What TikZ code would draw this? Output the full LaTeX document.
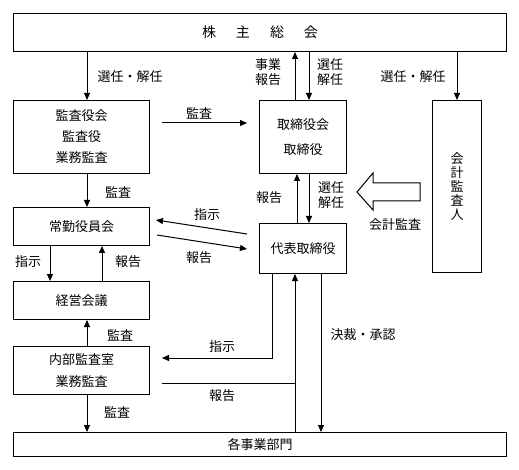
\documentclass[tikz,border=0pt]{standalone}
\usepackage{fontspec}
\setmainfont{Noto Sans CJK JP}
\usetikzlibrary{arrows.meta}
\begin{document}
\begin{tikzpicture}[x=1pt,y=-1pt,
  box/.style={draw,line width=1pt,inner sep=0pt,anchor=north west,font=\fontsize{13}{15}\selectfont},
  lbl/.style={font=\fontsize{13}{15}\selectfont,inner sep=0pt,align=center},
  arr/.style={line width=1pt,-{Triangle[length=7pt,width=6pt]}},
  ln/.style={line width=1pt}]
\useasboundingbox (0,0) rectangle (519,470);
% boxes
\node[box,minimum width=493pt,minimum height=38pt,font=\fontsize{14}{16}\selectfont] (top) at (13,13) {株\hspace{20pt}主\hspace{20pt}総\hspace{20pt}会};
\node[box,minimum width=136pt,minimum height=73pt,align=center] (audit) at (13,100) {監査役会\\[6pt]監査役\\[6pt]業務監査};
\node[box,minimum width=136pt,minimum height=38pt] (jokin) at (13,207) {常勤役員会};
\node[box,minimum width=136pt,minimum height=38pt] (keiei) at (13,281) {経営会議};
\node[box,minimum width=136pt,minimum height=48pt,align=center] (naibu) at (13,346) {内部監査室\\[7pt]業務監査};
\node[box,minimum width=87pt,minimum height=73pt,align=center] (board) at (259,100) {取締役会\\[10pt]取締役};
\node[box,minimum width=87pt,minimum height=50pt] (rep) at (259,223) {代表取締役};
\node[box,minimum width=49pt,minimum height=172pt,align=center,font=\fontsize{13}{14}\selectfont] (kaikei) at (432,100) {会\\計\\監\\査\\人};
\node[box,minimum width=493pt,minimum height=24pt] (jigyo) at (13,432) {各事業部門};
% x reference coordinates
\coordinate (x50) at (50,0);
\coordinate (x87) at (87,0);
\coordinate (x102) at (102,0);
\coordinate (x272) at (272,0);
\coordinate (x295) at (295,0);
\coordinate (x297) at (297,0);
\coordinate (x309) at (309,0);
\coordinate (x321) at (321,0);
\coordinate (x457) at (457,0);
% free ends
\coordinate (a1) at (162,123);
\coordinate (a2) at (247,123);
\coordinate (b1) at (247,234);
\coordinate (b2) at (156,220);
\coordinate (c1) at (157,235);
\coordinate (c2) at (247,249);
\coordinate (d1) at (272,358);
\coordinate (d2) at (162,358);
\coordinate (e1) at (162,383);
\coordinate (e2) at (295,383);
% connectors
\draw[arr] (top.south -| x87) -- (audit.north -| x87);
\draw[arr] (board.north -| x295) -- (top.south -| x295);
\draw[arr] (top.south -| x309) -- (board.north -| x309);
\draw[arr] (top.south -| x457) -- (kaikei.north -| x457);
\draw[arr] (a1) -- (a2);
\draw[arr] (audit.south -| x87) -- (jokin.north -| x87);
\draw[arr] (b1) -- (b2);
\draw[arr] (c1) -- (c2);
\draw[arr] (jokin.south -| x50) -- (keiei.north -| x50);
\draw[arr] (keiei.north -| x102) -- (jokin.south -| x102);
\draw[arr] (naibu.north -| x87) -- (keiei.south -| x87);
\draw[arr] (naibu.south -| x87) -- (jigyo.north -| x87);
\draw[arr] (rep.south -| x272) -- (d1) -- (d2);
\draw[arr] (jigyo.north -| x295) -- (rep.south -| x295);
\draw[ln] (e1) -- (e2);
\draw[arr] (rep.south -| x321) -- (jigyo.north -| x321);
\draw[arr] (rep.north -| x297) -- (board.south -| x297);
\draw[arr] (board.south -| x309) -- (rep.north -| x309);
% hollow arrow
\draw[line width=1pt,fill=white] (420,183) -- (373,183) -- (373,173) -- (357,192) -- (373,210) -- (373,201) -- (420,201) -- cycle;
% labels
\node[lbl] (l1) at (130,77) {選任・解任};
\node[lbl] (l2) at (268,72) {事業\\報告};
\node[lbl] (l3) at (330,72) {選任\\解任};
\node[lbl] (l4) at (413,77) {選任・解任};
\node[lbl] (l5) at (199,113) {監査};
\node[lbl] (l6) at (118,192) {監査};
\node[lbl] (l7) at (207,215) {指示};
\node[lbl] (l8) at (199,258) {報告};
\node[lbl] (l9) at (269,198) {報告};
\node[lbl] (l10) at (331,195) {選任\\解任};
\node[lbl] (l11) at (395,225) {会計監査};
\node[lbl] (l12) at (28,262) {指示};
\node[lbl] (l13) at (128,262) {報告};
\node[lbl] (l14) at (120,335) {監査};
\node[lbl] (l15) at (222,347) {指示};
\node[lbl] (l16) at (222,396) {報告};
\node[lbl] (l17) at (363,335) {決裁・承認};
\node[lbl] (l18) at (117,412) {監査};
\end{tikzpicture}
\end{document}
